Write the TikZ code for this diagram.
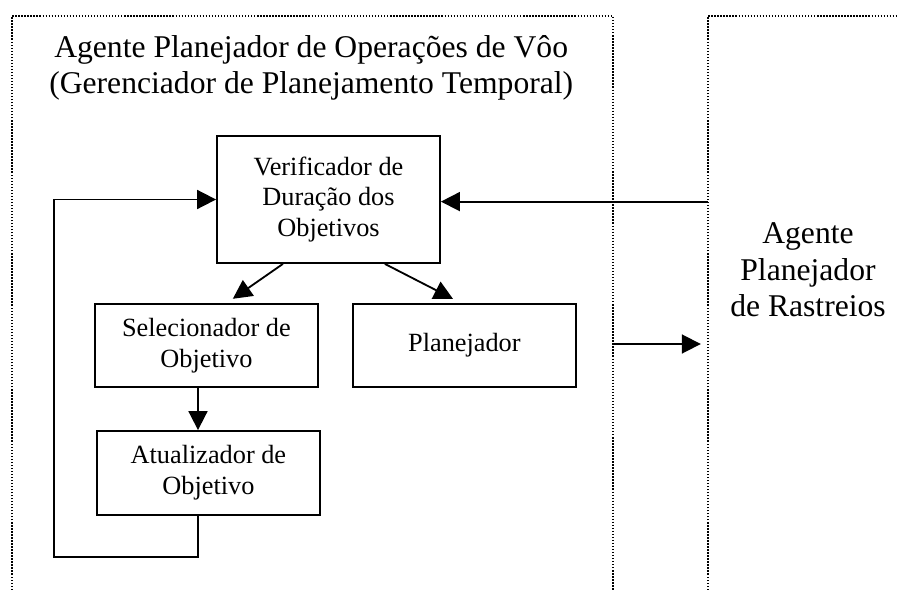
\documentclass[tikz,border=0pt]{standalone}
\usepackage{fontspec}
\setmainfont{Liberation Serif}
\usetikzlibrary{arrows.meta}
\newcommand{\boxfont}{\fontsize{18.7}{21.8}\selectfont}
\newcommand{\bigfont}{\fontsize{22.5}{26}\selectfont}

\begin{document}
\begin{tikzpicture}[
    box/.style={draw,line width=1.3pt,minimum width=5.575cm,minimum height=2.09cm,align=center,font=\boxfont},
    frame/.style={line width=1pt,dash pattern=on 1pt off 1.15pt},
    arr/.style={line width=1.3pt,-{Triangle[length=13.5pt,width=13.5pt]}}]
     \useasboundingbox (0,0) rectangle (22.425,-14.75);

     \draw[frame] (0.3,-14.75) -- (0.3,-0.4) -- (15.32,-0.4) -- (15.32,-14.75);
     \draw[frame] (17.7,-14.75) -- (17.7,-0.4) -- (22.425,-0.4);

     \node[align=center,font=\bigfont] (title) at (7.78,-1.7) {Agente Planejador de Operações de Vôo\\(Gerenciador de Planejamento Temporal)};
     \node[align=center,font=\bigfont] (rastreio) at (20.2,-6.75) {Agente\\Planejador\\de Rastreios};

     \node[box,minimum height=3.175cm] (verif) at (8.2125,-4.9875) {Verificador de\\Duração dos\\Objetivos};
     \node[box] (selec) at (5.16,-8.6375) {Selecionador de\\Objetivo};
     \node[box] (plan) at (11.61,-8.64) {Planejador};
     \node[box] (atual) at (5.21,-11.82) {Atualizador de\\Objetivo};

     \coordinate (volta) at (1.35,-13.925);
     \coordinate (entra) at (17.7,-5.04);
     \coordinate (saiL) at (15.32,-8.6);
     \coordinate (saiR) at (17.52,-8.6);

     \draw[arr] ([xshift=-1.14cm]verif.south) -- ([xshift=0.66cm,yshift=0.1cm]selec.north);
     \draw[arr] ([xshift=1.41cm]verif.south) -- ([xshift=-0.285cm,yshift=0.1cm]plan.north);
     \draw[arr] ([xshift=-0.21cm]selec.south) -- ([xshift=-0.26cm]atual.north);
     \draw[arr] ([xshift=-0.26cm]atual.south) |- (volta) |- (verif.west);
     \draw[arr] (entra) -- (entra -| verif.east);
     \draw[arr] (saiL) -- (saiR);
\end{tikzpicture}
\end{document}
